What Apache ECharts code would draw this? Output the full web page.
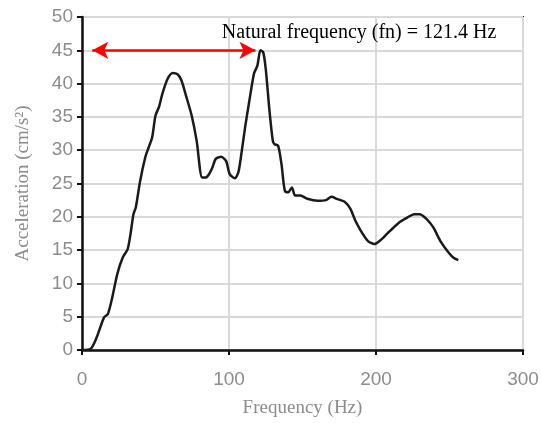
<!DOCTYPE html>
<html>
<head>
<meta charset="utf-8">
<script src="https://cdn.jsdelivr.net/npm/echarts@6/dist/echarts.min.js"></script>
<style>html,body{margin:0;padding:0;background:#fff;}#c{width:542px;height:423px;}</style>
</head>
<body>
<div id="c"></div>
<script>
const freq = [0, 6, 10, 15, 17.6, 20.6, 24, 27.7, 31, 33, 35, 36.6, 39.4, 43, 45.3, 47.7, 50, 52.4, 54.7, 58.2, 61.7, 65, 67.6, 71, 74.6, 78, 81.7, 84, 86.4, 88.7, 91, 94.6, 98, 100.5, 104, 106.4, 108.7, 111, 113.9, 117, 119.3, 121.4, 123.3, 125.1, 127.5, 129.8, 131, 133.4, 135.7, 138, 140.4, 142.8, 145, 148.6, 153.3, 160.3, 166, 169.7, 173.2, 179, 182.6, 186, 189.7, 194.4, 199, 202.6, 207.3, 212, 216.7, 221.4, 226, 229.6, 234.3, 239, 243.7, 249.5, 253, 256];
const accel = [0, 0.2, 1.9, 4.9, 5.4, 7.9, 11.4, 13.9, 15.1, 17.4, 20.4, 21.4, 25.2, 28.9, 30.4, 31.9, 35.2, 36.5, 38.5, 40.7, 41.6, 41.4, 40.5, 38, 35.2, 31.4, 25.9, 25.9, 26.4, 27.4, 28.7, 29, 28.4, 26.4, 25.8, 26.7, 29.9, 33.5, 37.5, 41.5, 42.7, 45, 44.7, 42, 36, 31.4, 30.9, 30.7, 27.9, 23.9, 23.7, 24.4, 23.2, 23.2, 22.7, 22.4, 22.5, 23, 22.7, 22.2, 21.2, 19.4, 17.9, 16.4, 15.9, 16.4, 17.4, 18.4, 19.3, 19.9, 20.4, 20.4, 19.7, 18.4, 16.4, 14.6, 13.8, 13.5];
const xTicks = [0, 100, 200, 300];
const yTicks = [0, 5, 10, 15, 20, 25, 30, 35, 40, 45, 50];
const arrowFrom = [7, 45];
const arrowTo = [118, 45];
const noteText = 'Natural frequency (fn) = 121.4 Hz';
const notePos = [188.5, 47.7];

const chart = echarts.init(document.getElementById('c'));
const tickFont = { color: '#8c8c8c', fontSize: 19, fontFamily: 'Liberation Sans' };
const nameFont = { color: '#8c8c8c', fontSize: 19, fontFamily: 'Liberation Serif' };
chart.setOption({
  animation: false,
  grid: { left: 82, right: 19, top: 17, bottom: 73, show: true, borderColor: '#222', borderWidth: 2, containLabel: false },
  xAxis: {
    type: 'value', min: xTicks[0], max: xTicks[xTicks.length - 1], interval: 100,
    name: 'Frequency (Hz)', nameLocation: 'middle', nameGap: 49, nameTextStyle: nameFont,
    axisLine: { show: true, lineStyle: { color: '#111', width: 2.5 } },
    axisTick: { show: true, length: 5, lineStyle: { color: '#111', width: 2 } },
    axisLabel: Object.assign({ margin: 20 }, tickFont),
    splitLine: { show: true, lineStyle: { color: '#d9d9d9', width: 2 } }
  },
  yAxis: {
    type: 'value', min: yTicks[0], max: yTicks[yTicks.length - 1], interval: 5,
    name: 'Acceleration (cm/s²)', nameLocation: 'middle', nameGap: 49, nameTextStyle: nameFont,
    axisLine: { show: true, lineStyle: { color: '#111', width: 2.5 } },
    axisTick: { show: true, length: 5, lineStyle: { color: '#111', width: 2 } },
    axisLabel: Object.assign({ margin: 9 }, tickFont),
    splitLine: { show: true, lineStyle: { color: '#d9d9d9', width: 2 } }
  },
  series: [{
    type: 'line',
    data: freq.map((f, i) => [f, accel[i]]),
    showSymbol: false,
    smooth: 0.25,
    lineStyle: { color: '#1a1a1a', width: 2.5 },
    markLine: {
      silent: true,
      symbol: ['arrow', 'arrow'],
      symbolSize: [13, 16],
      lineStyle: { color: '#ff0000', width: 2.5, type: 'solid' },
      label: { show: false },
      data: [[{ coord: arrowFrom }, { coord: arrowTo }]]
    },
    markPoint: {
      silent: true,
      symbol: 'circle',
      symbolSize: 0,
      label: { show: true, position: 'inside', formatter: noteText, color: '#000', fontSize: 20, fontFamily: 'Liberation Serif' },
      data: [{ coord: notePos }]
    }
  }]
});
</script>
</body>
</html>
